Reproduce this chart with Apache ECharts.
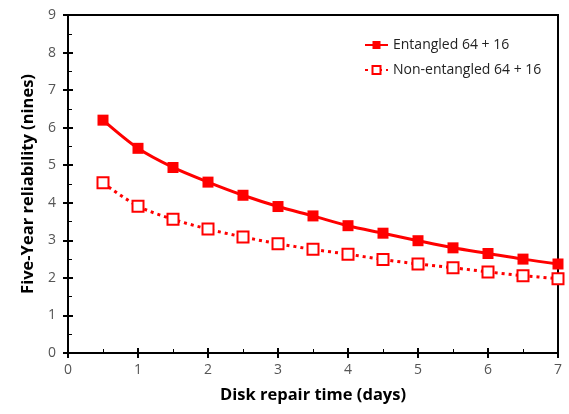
<!DOCTYPE html>
<html>
<head>
<meta charset="utf-8">
<script src="https://cdn.jsdelivr.net/npm/echarts@6/dist/echarts.min.js"></script>
<style>
html, body { margin: 0; padding: 0; background: #fff; }
#chart { width: 569px; height: 414px; }
</style>
</head>
<body>
<div id="chart"></div>
<script>
// values
const repairDays = [0.5, 1, 1.5, 2, 2.5, 3, 3.5, 4, 4.5, 5, 5.5, 6, 6.5, 7];
const entangled = [6.20, 5.45, 4.94, 4.55, 4.20, 3.90, 3.65, 3.39, 3.19, 2.99, 2.80, 2.65, 2.50, 2.37];
const nonEntangled = [4.53, 3.91, 3.56, 3.30, 3.09, 2.91, 2.76, 2.63, 2.49, 2.37, 2.27, 2.16, 2.06, 1.98];
const seriesNames = ['Entangled 64 + 16', 'Non-entangled 64 + 16'];

const font = 'Open Sans';
const red = '#ff0000';

let chart = echarts.init(document.getElementById('chart'));

function pairs(ys) {
    return repairDays.map((x, i) => [x, ys[i]]);
}

let option = {
    animation: false,
    grid: {
        left: 68, right: 11, top: 15, bottom: 61,
        show: true, borderColor: '#000', borderWidth: 2
    },
    legend: {
        orient: 'vertical',
        left: 359, top: 33,
        itemWidth: 23, itemHeight: 10, itemGap: 11,
        textStyle: { fontFamily: font, fontSize: 14, color: '#222' },
        data: seriesNames
    },
    xAxis: [
        {
            type: 'value', min: 0, max: 7, interval: 1,
            name: 'Disk repair time (days)', nameLocation: 'middle', nameGap: 34,
            nameTextStyle: { fontFamily: font, fontSize: 16.5, fontWeight: 'bold', color: '#000' },
            axisLine: { lineStyle: { color: '#000', width: 2 } },
            axisTick: { show: true, length: 5, lineStyle: { color: '#000', width: 2 } },
            axisLabel: { fontFamily: font, fontSize: 14, color: '#555', margin: 10 },
            splitLine: { show: false }
        },
        {
            type: 'value', min: 0, max: 7, interval: 1, position: 'bottom', offset: 0,
            axisLine: { show: false },
            axisTick: { show: true, inside: true, length: 5, lineStyle: { color: '#000', width: 2 } },
            minorTick: { show: true, splitNumber: 2, length: 4, lineStyle: { color: '#000', width: 1 } },
            axisLabel: { show: false },
            splitLine: { show: false }
        }
    ],
    yAxis: [
        {
            type: 'value', min: 0, max: 9, interval: 1,
            name: 'Five-Year reliability (nines)', nameLocation: 'middle', nameGap: 31,
            nameTextStyle: { fontFamily: font, fontSize: 16.5, fontWeight: 'bold', color: '#000' },
            axisLine: { show: true, lineStyle: { color: '#000', width: 2 } },
            axisTick: { show: true, length: 5, lineStyle: { color: '#000', width: 2 } },
            axisLabel: { fontFamily: font, fontSize: 14, color: '#555', margin: 12 },
            splitLine: { show: false }
        },
        {
            type: 'value', min: 0, max: 9, interval: 1, position: 'left', offset: 0,
            axisLine: { show: false },
            axisTick: { show: true, inside: true, length: 5, lineStyle: { color: '#000', width: 2 } },
            minorTick: { show: true, splitNumber: 2, length: 4, lineStyle: { color: '#000', width: 1 } },
            axisLabel: { show: false },
            splitLine: { show: false }
        }
    ],
    series: [
        {
            name: seriesNames[0],
            type: 'line',
            smooth: 0.3,
            data: pairs(entangled),
            symbol: 'rect', symbolSize: 11,
            lineStyle: { color: red, width: 3 },
            itemStyle: { color: red, borderColor: red, borderWidth: 0 }
        },
        {
            name: seriesNames[1],
            type: 'line',
            smooth: 0.3,
            data: pairs(nonEntangled),
            symbol: 'rect', symbolSize: 11,
            lineStyle: { color: red, width: 3, type: [3, 4] },
            itemStyle: { color: '#fff', borderColor: red, borderWidth: 2 }
        }
    ]
};
chart.setOption(option);

window.addEventListener('resize', () => {
    chart.resize()
})
</script>
</body>
</html>
